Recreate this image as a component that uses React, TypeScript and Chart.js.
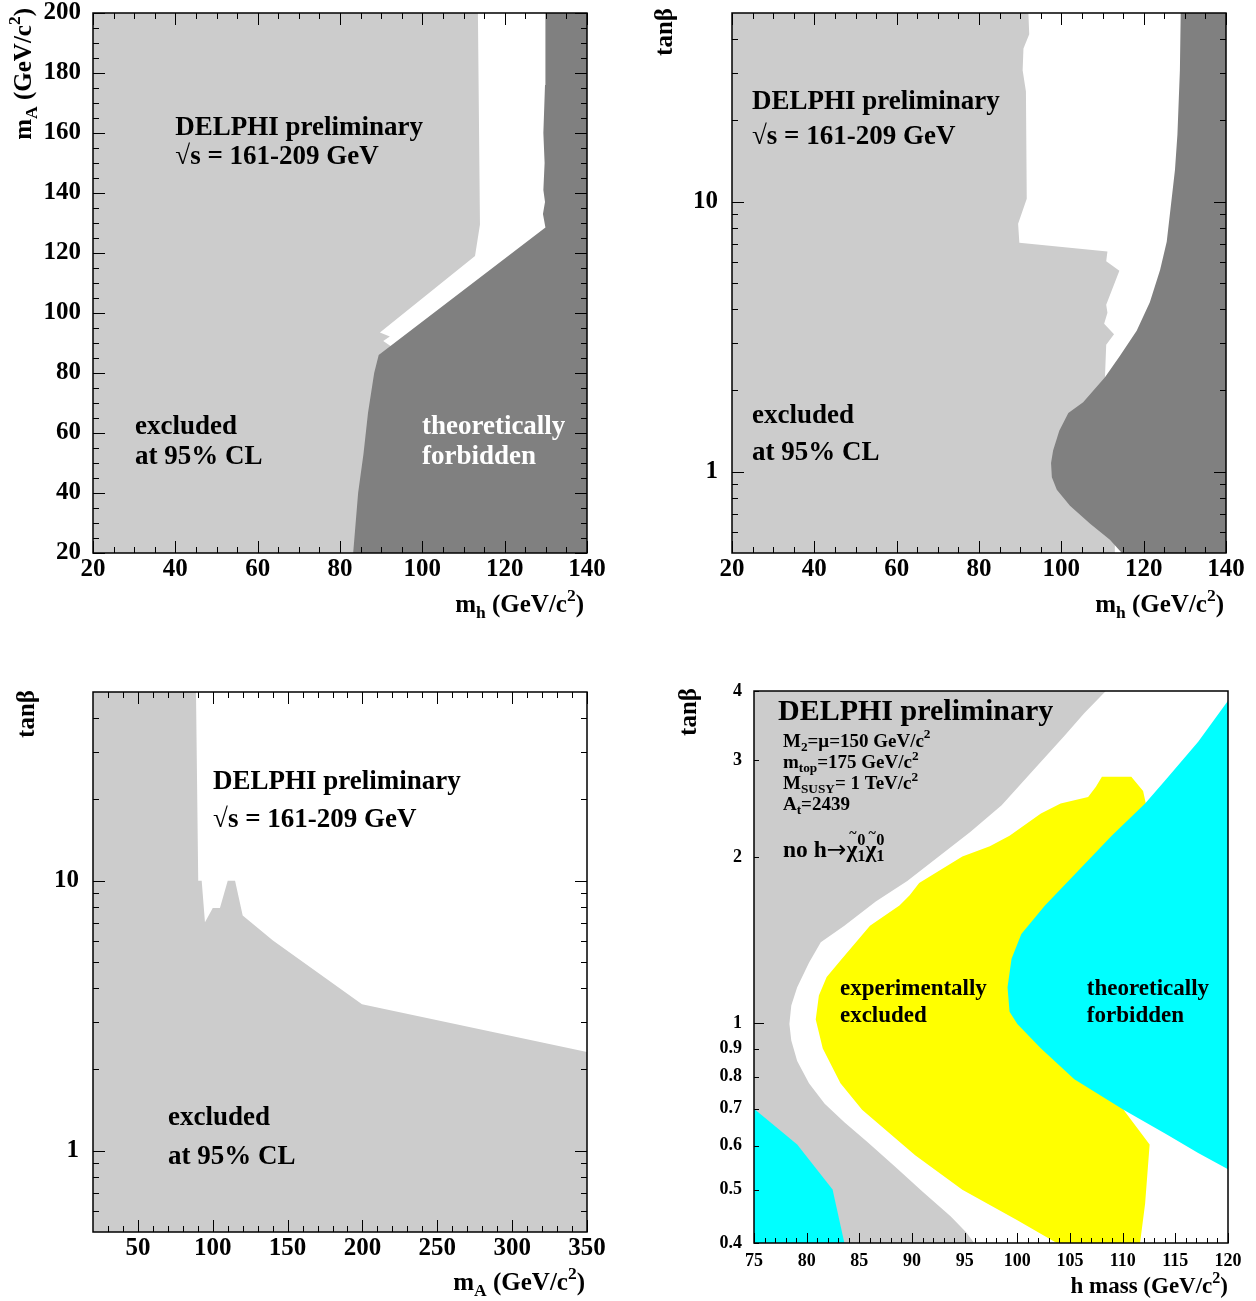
import React, { useEffect, useRef } from 'react';
import { Chart, registerables } from 'chart.js';

Chart.register(...registerables);

const SERIF = '"Liberation Serif", "Times New Roman", Times, serif';
const SYMBOL_FONT = '"DejaVu Sans", sans-serif';

type Pt = [number, number];
type SegKind = 'n' | 'sub' | 'sup' | 'tilde' | 'stack' | 'sym';
type Seg = [string, SegKind];

// ---------------- Panel 1 : m_h vs m_A ----------------
const P1_X_TICKS = [20, 40, 60, 80, 100, 120, 140];
const P1_Y_TICKS = [20, 40, 60, 80, 100, 120, 140, 160, 180, 200];
const P1_EXCLUDED: Pt[] = [
  [20, 20], [20, 200], [113.5, 200], [114, 129.5], [112.8, 119], [89.7, 93.5],
  [92.1, 92.2], [90.5, 90.7], [92.1, 89.2], [92.8, 88.5], [96, 20],
];
const P1_FORBIDDEN: Pt[] = [
  [83.2, 20], [84.4, 40], [85.7, 53], [86.8, 66.7], [88.3, 80], [89.4, 86],
  [129.9, 128.5], [129.3, 133], [129.8, 137], [129.4, 141], [129.7, 150],
  [129.4, 160], [129.8, 176], [129.9, 200], [140, 200], [140, 20],
];

// ---------------- Panel 2 : m_h vs tanb ----------------
const P2_X_TICKS = [20, 40, 60, 80, 100, 120, 140];
const P2_Y_TICKS = [1, 10];
const P2_EXCLUDED: Pt[] = [
  [20, 0.5], [20, 50], [92.0, 50], [92.2, 41.7], [90.8, 36.9], [90.6, 30.7], [91.4, 25.6],
  [91.6, 10.26], [89.5, 8.29], [89.8, 7.05], [111.2, 6.54], [110.9, 6.02], [114.1, 5.55],
  [110.9, 4.15], [111.2, 3.88], [110.4, 3.53], [112.8, 3.23], [110.9, 2.95], [110.6, 2.24],
  [113.0, 0.6], [113.0, 0.5],
];
const P2_FORBIDDEN: Pt[] = [
  [129.0, 50], [128.8, 30.7], [128.2, 17.75], [127.6, 13.1], [126.8, 10.26], [125.6, 7.11],
  [124.0, 5.6], [121.5, 4.24], [118.3, 3.33], [114.25, 2.69], [110.6, 2.24], [105.3, 1.81],
  [101.7, 1.65], [99.5, 1.419], [98.0, 1.198], [97.5, 1.077], [97.7, 0.953], [98.9, 0.858],
  [102.1, 0.748], [107.0, 0.642], [111.8, 0.56], [114.7, 0.5], [140, 0.5], [140, 50],
];

// ---------------- Panel 3 : m_A vs tanb ----------------
const P3_X_TICKS = [50, 100, 150, 200, 250, 300, 350];
const P3_Y_TICKS = [1, 10];
const P3_EXCLUDED: Pt[] = [
  [20, 0.5], [20, 50], [88.8, 50], [90.3, 10], [92.6, 10], [94.8, 7.02], [100.0, 7.93],
  [104.8, 7.93], [110.0, 10], [114.9, 10], [120.0, 7.43], [140.2, 6.0], [199.7, 3.49],
  [350, 2.32], [350, 0.5],
];

// ---------------- Panel 4 : h mass vs tanb ----------------
const P4_X_TICKS = [75, 80, 85, 90, 95, 100, 105, 110, 115, 120];
const P4_Y_TICKS = [0.4, 0.5, 0.6, 0.7, 0.8, 0.9, 1, 2, 3, 4];
const P4_Y_LABELS = ['0.4', '0.5', '0.6', '0.7', '0.8', '0.9', '1', '2', '3', '4'];
const P4_EXCLUDED: Pt[] = [
  [75, 0.4], [75, 4], [108.4, 4], [106.35, 3.646], [104.48, 3.32], [101.49, 2.872],
  [98.51, 2.484], [95.53, 2.222], [92.54, 2.006], [89.55, 1.811], [86.56, 1.663],
  [83.58, 1.502], [81.34, 1.403], [80.22, 1.288], [79.1, 1.162], [78.54, 1.077],
  [78.36, 0.997], [78.54, 0.931], [79.1, 0.855], [80.22, 0.779], [81.71, 0.715],
  [83.58, 0.662], [85.82, 0.608], [88.43, 0.549], [91.04, 0.495], [93.66, 0.447],
  [95.16, 0.418], [95.9, 0.4],
];
const P4_EXPERIMENTAL: Pt[] = [
  [108.03, 2.798], [110.82, 2.798], [111.94, 2.636], [112.2, 2.503], [114, 1.0],
  [110.08, 0.697], [112.56, 0.603], [112.13, 0.471], [111.65, 0.4], [103.74, 0.4],
  [100.0, 0.44], [94.78, 0.4996], [90.3, 0.577], [85.26, 0.697], [83.21, 0.779],
  [81.53, 0.9], [80.86, 1.016], [81.16, 1.123], [81.9, 1.213], [83.21, 1.299],
  [86.01, 1.502], [88.81, 1.635], [89.78, 1.707], [90.68, 1.796], [94.78, 2.006],
  [97.39, 2.094], [99.26, 2.186], [102.24, 2.4], [104.11, 2.503], [106.72, 2.57],
  [107.46, 2.683],
];
const P4_FORBIDDEN: Pt[] = [
  [120, 3.84], [117.17, 3.236], [114.19, 2.776], [112.13, 2.503], [108.96, 2.186],
  [105.6, 1.874], [102.62, 1.635], [100.38, 1.451], [99.45, 1.309], [99.07, 1.162],
  [99.26, 1.05], [100.0, 0.997], [102.25, 0.9], [105.41, 0.792], [110.08, 0.697],
  [114.19, 0.629], [117.17, 0.582], [120, 0.544],
];
const P4_FORBIDDEN_LOW: Pt[] = [
  [75, 0.4], [75, 0.7], [79.1, 0.603], [82.46, 0.5], [83.58, 0.4],
];

const LOG_MINOR = [0.6, 0.7, 0.8, 0.9, 2, 3, 4, 5, 6, 7, 8, 9, 20, 30, 40];

const GREY = '#cccccc';
const DARK = '#808080';
const YELLOW = '#ffff00';
const CYAN = '#00ffff';

// ---------------- helpers ----------------
const font = (size: number) => `bold ${size}px ${SERIF}`;
const symFont = (size: number) => `${size}px ${SYMBOL_FONT}`;

function every(from: number, to: number, step: number, skip: number[]): number[] {
  const out: number[] = [];
  for (let v = from; v <= to + 1e-9; v += step) {
    const r = Math.round(v * 1000) / 1000;
    if (!skip.some((s) => Math.abs(s - r) < 1e-6)) out.push(r);
  }
  return out;
}

function fillSet(label: string, pts: Pt[], color: string, order: number) {
  return {
    label,
    data: pts.map(([x, y]) => ({ x, y })),
    backgroundColor: color,
    borderColor: color,
    borderWidth: 0,
    fill: 'shape',
    pointRadius: 0,
    pointHoverRadius: 0,
    pointHitRadius: 0,
    tension: 0,
    order,
  };
}

function segWidth(ctx: CanvasRenderingContext2D, t: string, k: SegKind, size: number) {
  if (k === 'n' || k === 'tilde') {
    ctx.font = font(size);
    return ctx.measureText(t).width;
  }
  if (k === 'sym') {
    ctx.font = symFont(size);
    return ctx.measureText(t).width;
  }
  if (k === 'sub' || k === 'sup') {
    ctx.font = font(size * 0.7);
    return ctx.measureText(t).width;
  }
  const [a, b] = t.split('|');
  ctx.font = font(size * 0.7);
  return Math.max(ctx.measureText(a).width, ctx.measureText(b).width);
}

function drawRich(
  ctx: CanvasRenderingContext2D, segs: Seg[], x: number, y: number, size: number,
  align: 'left' | 'right', color: string,
) {
  const w = segs.reduce((s, [t, k]) => s + segWidth(ctx, t, k, size), 0);
  let cx = align === 'right' ? x - w : x;
  ctx.fillStyle = color;
  ctx.textAlign = 'left';
  ctx.textBaseline = 'alphabetic';
  for (const [t, k] of segs) {
    const sw = segWidth(ctx, t, k, size);
    if (k === 'n') {
      ctx.font = font(size);
      ctx.fillText(t, cx, y);
    } else if (k === 'sym') {
      ctx.font = symFont(size);
      ctx.fillText(t, cx, y);
    } else if (k === 'sub') {
      ctx.font = font(size * 0.7);
      ctx.fillText(t, cx, y + size * 0.22);
    } else if (k === 'sup') {
      ctx.font = font(size * 0.7);
      ctx.fillText(t, cx, y - size * 0.45);
    } else if (k === 'tilde') {
      ctx.font = font(size);
      ctx.fillText(t, cx, y);
      ctx.font = font(size * 0.6);
      const tw = ctx.measureText('~').width;
      ctx.fillText('~', cx + sw / 2 - tw / 2 + size * 0.05, y - size * 0.8);
    } else {
      const [a, b] = t.split('|');
      ctx.font = font(size * 0.7);
      ctx.fillText(a, cx, y - size * 0.5);
      ctx.fillText(b, cx, y + size * 0.18);
    }
    cx += sw;
  }
}

type TextItem = { segs: Seg[]; x: number; y: number; size: number; color?: string };
type OverlayCfg = {
  xMajor: number[]; xMinor: number[]; yMajor: number[]; yMinor: number[];
  major: number; minor: number; mirror: boolean;
  texts: TextItem[];
  xTitle: { segs: Seg[]; size: number; dx: number; dy: number };
  yTitle: { segs: Seg[]; size: number; dx: number; dy: number };
};

function overlay(cfg: OverlayCfg) {
  return {
    id: 'rootStyleOverlay',
    afterDatasetsDraw(chart: any) {
      const { ctx, chartArea: a, scales } = chart;
      const xs = scales.x;
      const ys = scales.y;
      ctx.save();
      ctx.strokeStyle = '#000';
      ctx.lineWidth = 1;
      const xTick = (v: number, len: number) => {
        const p = Math.round(xs.getPixelForValue(v)) + 0.5;
        ctx.beginPath();
        ctx.moveTo(p, a.bottom);
        ctx.lineTo(p, a.bottom - len);
        if (cfg.mirror) {
          ctx.moveTo(p, a.top);
          ctx.lineTo(p, a.top + len);
        }
        ctx.stroke();
      };
      const yTick = (v: number, len: number) => {
        const p = Math.round(ys.getPixelForValue(v)) + 0.5;
        ctx.beginPath();
        ctx.moveTo(a.left, p);
        ctx.lineTo(a.left + len, p);
        if (cfg.mirror) {
          ctx.moveTo(a.right, p);
          ctx.lineTo(a.right - len, p);
        }
        ctx.stroke();
      };
      cfg.xMajor.forEach((v) => xTick(v, cfg.major));
      cfg.xMinor.forEach((v) => xTick(v, cfg.minor));
      cfg.yMajor.forEach((v) => yTick(v, cfg.major));
      cfg.yMinor.forEach((v) => yTick(v, cfg.minor));
      ctx.lineWidth = 1.5;
      ctx.strokeRect(a.left, a.top, a.right - a.left, a.bottom - a.top);
      ctx.restore();
    },
    afterDraw(chart: any) {
      const { ctx, chartArea: a, scales } = chart;
      ctx.save();
      for (const t of cfg.texts) {
        const px = scales.x.getPixelForValue(t.x);
        const py = scales.y.getPixelForValue(t.y);
        drawRich(ctx, t.segs, px, py, t.size, 'left', t.color || '#000');
      }
      drawRich(ctx, cfg.xTitle.segs, a.right + cfg.xTitle.dx, a.bottom + cfg.xTitle.dy, cfg.xTitle.size, 'right', '#000');
      ctx.save();
      ctx.translate(a.left + cfg.yTitle.dx, a.top + cfg.yTitle.dy);
      ctx.rotate(-Math.PI / 2);
      drawRich(ctx, cfg.yTitle.segs, 0, 0, cfg.yTitle.size, 'right', '#000');
      ctx.restore();
      ctx.restore();
    },
  };
}

function axis(o: {
  type: 'linear' | 'logarithmic'; min: number; max: number; ticks: number[]; labels?: string[];
  size: number; padding: number; thickness: number; horizontal: boolean;
}) {
  return {
    type: o.type,
    min: o.min,
    max: o.max,
    bounds: 'data',
    position: o.horizontal ? 'bottom' : 'left',
    grid: { display: false, drawTicks: false },
    border: { display: false },
    afterBuildTicks: (s: any) => {
      s.ticks = o.ticks.map((v) => ({ value: v }));
    },
    afterFit: (s: any) => {
      if (o.horizontal) s.height = o.thickness;
      else s.width = o.thickness;
      s.paddingTop = 0;
      s.paddingBottom = 0;
      s.paddingLeft = 0;
      s.paddingRight = 0;
    },
    ticks: {
      autoSkip: false,
      maxRotation: 0,
      minRotation: 0,
      padding: o.padding,
      color: '#000',
      font: { family: SERIF, size: o.size, weight: 'bold' },
      callback: (v: number, i: number) => (o.labels ? o.labels[i] : String(v)),
    },
  };
}

function baseConfig(datasets: any[], scales: any, padding: any, cfg: OverlayCfg) {
  return {
    type: 'line',
    data: { datasets },
    options: {
      responsive: false,
      animation: false,
      devicePixelRatio: 1,
      events: [],
      layout: { padding },
      plugins: { legend: { display: false }, tooltip: { enabled: false }, title: { display: false } },
      scales,
    },
    plugins: [overlay(cfg)],
  };
}

const MH_TITLE: Seg[] = [['m', 'n'], ['h', 'sub'], [' (GeV/c', 'n'], ['2', 'sup'], [')', 'n']];
const MA_TITLE: Seg[] = [['m', 'n'], ['A', 'sub'], [' (GeV/c', 'n'], ['2', 'sup'], [')', 'n']];
const TANB: Seg[] = [['tanβ', 'n']];
const t1 = (s: string): Seg[] => [[s, 'n']];

function panel1() {
  return baseConfig(
    [fillSet('theoretically forbidden', P1_FORBIDDEN, DARK, 1), fillSet('excluded', P1_EXCLUDED, GREY, 2)],
    {
      x: axis({ type: 'linear', min: 20, max: 140, ticks: P1_X_TICKS, size: 25, padding: 2, thickness: 87, horizontal: true }),
      y: axis({ type: 'linear', min: 20, max: 200, ticks: P1_Y_TICKS, size: 25, padding: 12, thickness: 93, horizontal: false }),
    },
    { top: 13, right: 41, bottom: 0, left: 0 },
    {
      xMajor: P1_X_TICKS, xMinor: every(20, 140, 5, P1_X_TICKS),
      yMajor: P1_Y_TICKS, yMinor: every(20, 200, 5, P1_Y_TICKS),
      major: 12, minor: 6, mirror: true,
      texts: [
        { segs: t1('DELPHI preliminary'), x: 40, y: 159.5, size: 27 },
        { segs: t1('√s = 161-209 GeV'), x: 40, y: 149.7, size: 27 },
        { segs: t1('excluded'), x: 30.2, y: 59.7, size: 27 },
        { segs: t1('at 95% CL'), x: 30.2, y: 49.7, size: 27 },
        { segs: t1('theoretically'), x: 99.9, y: 59.7, size: 27, color: '#fff' },
        { segs: t1('forbidden'), x: 99.9, y: 49.7, size: 27, color: '#fff' },
      ],
      xTitle: { segs: MH_TITLE, size: 25, dx: -3, dy: 59 },
      yTitle: { segs: MA_TITLE, size: 25, dx: -62, dy: -5 },
    },
  );
}

function panel2() {
  return baseConfig(
    [fillSet('theoretically forbidden', P2_FORBIDDEN, DARK, 1), fillSet('excluded', P2_EXCLUDED, GREY, 2)],
    {
      x: axis({ type: 'linear', min: 20, max: 140, ticks: P2_X_TICKS, size: 25, padding: 2, thickness: 87, horizontal: true }),
      y: axis({ type: 'logarithmic', min: 0.5, max: 50, ticks: P2_Y_TICKS, size: 25, padding: 14, thickness: 104, horizontal: false }),
    },
    { top: 13, right: 30, bottom: 0, left: 0 },
    {
      xMajor: P2_X_TICKS, xMinor: every(20, 140, 5, P2_X_TICKS),
      yMajor: P2_Y_TICKS, yMinor: LOG_MINOR,
      major: 12, minor: 6, mirror: true,
      texts: [
        { segs: t1('DELPHI preliminary'), x: 24.86, y: 22.1, size: 27 },
        { segs: t1('√s = 161-209 GeV'), x: 24.86, y: 16.3, size: 27 },
        { segs: t1('excluded'), x: 24.86, y: 1.518, size: 27 },
        { segs: t1('at 95% CL'), x: 24.86, y: 1.107, size: 27 },
      ],
      xTitle: { segs: MH_TITLE, size: 25, dx: -2, dy: 59 },
      yTitle: { segs: TANB, size: 25, dx: -60, dy: -5 },
    },
  );
}

function panel3() {
  return baseConfig(
    [fillSet('excluded', P3_EXCLUDED, GREY, 1)],
    {
      x: axis({ type: 'linear', min: 20, max: 350, ticks: P3_X_TICKS, size: 25, padding: 2, thickness: 69, horizontal: true }),
      y: axis({ type: 'logarithmic', min: 0.5, max: 50, ticks: P3_Y_TICKS, size: 25, padding: 14, thickness: 93, horizontal: false }),
    },
    { top: 52, right: 41, bottom: 0, left: 0 },
    {
      xMajor: P3_X_TICKS, xMinor: every(30, 350, 10, P3_X_TICKS),
      yMajor: P3_Y_TICKS, yMinor: LOG_MINOR,
      major: 12, minor: 6, mirror: true,
      texts: [
        { segs: t1('DELPHI preliminary'), x: 100.2, y: 21.85, size: 27 },
        { segs: t1('√s = 161-209 GeV'), x: 100.2, y: 15.83, size: 27 },
        { segs: t1('excluded'), x: 70.1, y: 1.247, size: 27 },
        { segs: t1('at 95% CL'), x: 70.1, y: 0.895, size: 27 },
      ],
      xTitle: { segs: MA_TITLE, size: 25, dx: -2, dy: 58 },
      yTitle: { segs: TANB, size: 25, dx: -59, dy: -2 },
    },
  );
}

function panel4() {
  return baseConfig(
    [
      fillSet('theoretically forbidden (low)', P4_FORBIDDEN_LOW, CYAN, 1),
      fillSet('theoretically forbidden', P4_FORBIDDEN, CYAN, 2),
      fillSet('experimentally excluded', P4_EXPERIMENTAL, YELLOW, 3),
      fillSet('excluded', P4_EXCLUDED, GREY, 4),
    ],
    {
      x: axis({ type: 'linear', min: 75, max: 120, ticks: P4_X_TICKS, size: 18, padding: 8, thickness: 58, horizontal: true }),
      y: axis({ type: 'logarithmic', min: 0.4, max: 4, ticks: P4_Y_TICKS, labels: P4_Y_LABELS, size: 18, padding: 12, thickness: 126, horizontal: false }),
    },
    { top: 51, right: 28, bottom: 0, left: 0 },
    {
      xMajor: P4_X_TICKS, xMinor: every(75, 120, 1, P4_X_TICKS),
      yMajor: [1], yMinor: P4_Y_TICKS.filter((v) => v !== 1),
      major: 10, minor: 5, mirror: false,
      texts: [
        { segs: t1('DELPHI preliminary'), x: 77.28, y: 3.543, size: 30 },
        { segs: [['M', 'n'], ['2', 'sub'], ['=μ=150 GeV/c', 'n'], ['2', 'sup']], x: 77.75, y: 3.167, size: 19 },
        { segs: [['m', 'n'], ['top', 'sub'], ['=175 GeV/c', 'n'], ['2', 'sup']], x: 77.75, y: 2.9, size: 19 },
        { segs: [['M', 'n'], ['SUSY', 'sub'], ['= 1 TeV/c', 'n'], ['2', 'sup']], x: 77.75, y: 2.657, size: 19 },
        { segs: [['A', 'n'], ['t', 'sub'], ['=2439', 'n']], x: 77.75, y: 2.435, size: 19 },
        { segs: [['no h', 'n'], ['→', 'sym'], ['χ', 'tilde'], ['0|1', 'stack'], ['χ', 'tilde'], ['0|1', 'stack']], x: 77.75, y: 2.001, size: 23.5 },
        { segs: t1('experimentally'), x: 83.16, y: 1.125, size: 23 },
        { segs: t1('excluded'), x: 83.16, y: 1.005, size: 23 },
        { segs: t1('theoretically'), x: 106.6, y: 1.125, size: 23 },
        { segs: t1('forbidden'), x: 106.6, y: 1.005, size: 23 },
      ],
      xTitle: { segs: [['h mass (GeV/c', 'n'], ['2', 'sup'], [')', 'n']], size: 23, dx: 0, dy: 50 },
      yTitle: { segs: TANB, size: 25, dx: -58, dy: -3 },
    },
  );
}

function ChartPanel({ build, left, top, width, height }: { build: () => any; left: number; top: number; width: number; height: number }) {
  const ref = useRef<HTMLCanvasElement>(null);
  useEffect(() => {
    if (!ref.current) return;
    const chart = new Chart(ref.current, build());
    return () => chart.destroy();
  }, [build]);
  return (
    <canvas
      ref={ref}
      width={width}
      height={height}
      style={{ position: 'absolute', left, top, width, height, display: 'block' }}
    />
  );
}

export default function App() {
  return (
    <div style={{ position: 'absolute', left: 0, top: 0, width: 1256, height: 1301, background: '#fff', overflow: 'hidden' }}>
      <ChartPanel build={panel1} left={0} top={0} width={628} height={640} />
      <ChartPanel build={panel2} left={628} top={0} width={628} height={640} />
      <ChartPanel build={panel3} left={0} top={640} width={628} height={661} />
      <ChartPanel build={panel4} left={628} top={640} width={628} height={661} />
    </div>
  );
}
